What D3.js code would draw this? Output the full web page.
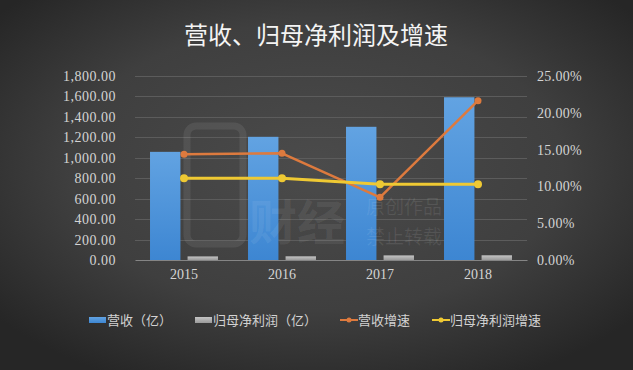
<!DOCTYPE html>
<html>
<head>
<meta charset="utf-8">
<script src="https://cdn.jsdelivr.net/npm/d3@7"></script>
<style>
  html, body { margin: 0; padding: 0; background: #333; }
  svg { display: block; }
</style>
</head>
<body>
<div class="chart"></div>
<script>
const years = ["2015", "2016", "2017", "2018"];
const revenue = [1058, 1205, 1303, 1592];          // 营收（亿）
const netProfit = [35, 36, 45, 46];                 // 归母净利润（亿）
const revenueGrowth = [0.1436, 0.1450, 0.0852, 0.2164];  // 营收增速
const profitGrowth = [0.1110, 0.1110, 0.1028, 0.1030];   // 归母净利润增速
const leftTicks = [0, 200, 400, 600, 800, 1000, 1200, 1400, 1600, 1800];
const rightTicks = [0, 0.05, 0.10, 0.15, 0.20, 0.25];
const legendLabels = ["营收（亿）", "归母净利润（亿）", "营收增速", "归母净利润增速"];

const width = 633, height = 370;
const cjk = "'Noto Sans CJK SC', 'Noto Sans', sans-serif";
const numFont = "'Liberation Serif', 'DejaVu Serif', serif";

const svg = d3.select(".chart").append("svg")
    .attr("width", width)
    .attr("height", height);

const defs = svg.append("defs");

let bg = defs.append("radialGradient").attr("id", "bg")
    .attr("cx", "50%").attr("cy", "45%").attr("r", "65%");
bg.append("stop").attr("offset", "0%").attr("stop-color", "#4b4b4b");
bg.append("stop").attr("offset", "60%").attr("stop-color", "#3f3f3f");
bg.append("stop").attr("offset", "100%").attr("stop-color", "#262626");

let blue = defs.append("linearGradient").attr("id", "blue")
    .attr("x1", 0).attr("y1", 0).attr("x2", 0).attr("y2", 1);
blue.append("stop").attr("offset", "0%").attr("stop-color", "#62a3e2");
blue.append("stop").attr("offset", "100%").attr("stop-color", "#3d86d2");

let gray = defs.append("linearGradient").attr("id", "gray")
    .attr("x1", 0).attr("y1", 0).attr("x2", 0).attr("y2", 1);
gray.append("stop").attr("offset", "0%").attr("stop-color", "#c4c4c4");
gray.append("stop").attr("offset", "100%").attr("stop-color", "#9a9a9a");

svg.append("rect")
    .attr("width", width)
    .attr("height", height)
    .style("fill", "url(#bg)");

// title
svg.append("text")
    .attr("x", 316)
    .attr("y", 44)
    .attr("text-anchor", "middle")
    .style("font-family", cjk)
    .style("font-size", "24px")
    .style("fill", "#f4f4f4")
    .text("营收、归母净利润及增速");

const plotLeft = 135, plotRight = 527, plotTop = 76, plotBottom = 260;

let x0 = d3.scaleBand()
    .domain(years)
    .range([plotLeft, plotRight]);

let x1 = d3.scaleBand()
    .domain(["rev", "np"])
    .range([0, x0.bandwidth()])
    .paddingInner(0.19)
    .paddingOuter(0.4);

let yLeft = d3.scaleLinear()
    .domain([0, 1800])
    .range([plotBottom, plotTop]);

let yRight = d3.scaleLinear()
    .domain([0, 0.25])
    .range([plotBottom, plotTop]);

// gridlines
svg.append("g")
    .selectAll("line")
    .data(leftTicks.slice(1))
    .enter().append("line")
    .attr("x1", plotLeft)
    .attr("x2", plotRight)
    .attr("y1", d => Math.round(yLeft(d)) + 0.5)
    .attr("y2", d => Math.round(yLeft(d)) + 0.5)
    .style("stroke", "#5c5c5c")
    .style("stroke-width", 1);

// left axis
let leftAxis = d3.axisLeft(yLeft)
    .tickValues(leftTicks)
    .tickSize(0)
    .tickPadding(0)
    .tickFormat(d3.format(",.2f"));

let leftG = svg.append("g")
    .attr("transform", `translate(116, 0)`)
    .call(leftAxis);
leftG.select(".domain").remove();
leftG.selectAll("text")
    .style("font-family", numFont)
    .style("font-size", "14px")
    .style("letter-spacing", "0.5px")
    .style("fill", "#d4d4d4");

// right axis
let rightAxis = d3.axisRight(yRight)
    .tickValues(rightTicks)
    .tickSize(0)
    .tickPadding(0)
    .tickFormat(d3.format(".2%"));

let rightG = svg.append("g")
    .attr("transform", `translate(537, 0)`)
    .call(rightAxis);
rightG.select(".domain").remove();
rightG.selectAll("text")
    .style("font-family", numFont)
    .style("font-size", "14px")
    .style("letter-spacing", "0.3px")
    .style("fill", "#d4d4d4");

// bars
svg.append("g")
    .selectAll("rect")
    .data(years)
    .enter().append("rect")
    .attr("x", (d, i) => x0(d) + x1("rev"))
    .attr("y", (d, i) => yLeft(revenue[i]))
    .attr("width", x1.bandwidth())
    .attr("height", (d, i) => yLeft(0) - yLeft(revenue[i]))
    .style("fill", "url(#blue)");

svg.append("g")
    .selectAll("rect")
    .data(years)
    .enter().append("rect")
    .attr("x", (d, i) => x0(d) + x1("np"))
    .attr("y", (d, i) => yLeft(netProfit[i]))
    .attr("width", x1.bandwidth())
    .attr("height", (d, i) => yLeft(0) - yLeft(netProfit[i]))
    .style("fill", "url(#gray)");

// x axis
let xAxis = d3.axisBottom(x0)
    .tickSize(0)
    .tickPadding(9)
    .tickSizeOuter(0);

let xG = svg.append("g")
    .attr("transform", `translate(0, ${plotBottom})`)
    .call(xAxis);
xG.select(".domain")
    .style("stroke", "#858585")
    .style("stroke-width", 1.2);
xG.selectAll("text")
    .style("font-family", numFont)
    .style("font-size", "14px")
    .style("fill", "#d4d4d4");

// watermark
let wm = svg.append("g")
    .style("pointer-events", "none");
wm.append("rect")
    .attr("x", 187).attr("y", 126)
    .attr("width", 56).attr("height", 118)
    .attr("rx", 9)
    .style("fill", "none")
    .style("stroke", "rgba(255,255,255,0.08)")
    .style("stroke-width", 7);
wm.append("text")
    .attr("x", 297).attr("y", 240)
    .attr("text-anchor", "middle")
    .style("font-family", cjk)
    .style("font-weight", "bold")
    .style("font-size", "48px")
    .style("fill", "rgba(255,255,255,0.08)")
    .text("财经");
wm.append("text")
    .attr("x", 404).attr("y", 214)
    .attr("text-anchor", "middle")
    .style("font-family", cjk)
    .style("font-size", "19px")
    .style("fill", "rgba(255,255,255,0.09)")
    .text("原创作品");
wm.append("text")
    .attr("x", 404).attr("y", 244)
    .attr("text-anchor", "middle")
    .style("font-family", cjk)
    .style("font-size", "19px")
    .style("fill", "rgba(255,255,255,0.09)")
    .text("禁止转载");

// lines
const cx = d => x0(d) + x0.bandwidth() / 2;

function drawLine(values, color, w, r) {
    let line = d3.line()
        .x((d, i) => cx(years[i]))
        .y(d => yRight(d));
    svg.append("path")
        .datum(values)
        .attr("d", line)
        .style("fill", "none")
        .style("stroke", color)
        .style("stroke-width", w)
        .style("stroke-linejoin", "round");
    svg.append("g")
        .selectAll("circle")
        .data(values)
        .enter().append("circle")
        .attr("cx", (d, i) => cx(years[i]))
        .attr("cy", d => yRight(d))
        .attr("r", r)
        .style("fill", color);
}

drawLine(revenueGrowth, "#dd7a3e", 2.5, 3.5);
drawLine(profitGrowth, "#efc933", 3, 4);

// legend
const legendItems = [
    {label: legendLabels[0], type: "bar", fill: "url(#blue)", x: 89},
    {label: legendLabels[1], type: "bar", fill: "url(#gray)", x: 195},
    {label: legendLabels[2], type: "line", fill: "#dd7a3e", x: 340},
    {label: legendLabels[3], type: "line", fill: "#efc933", x: 432}
];

let legend = svg.append("g")
    .attr("transform", `translate(0, 320)`);

let item = legend.selectAll("g")
    .data(legendItems)
    .enter().append("g")
    .attr("transform", d => `translate(${d.x}, 0)`);

item.filter(d => d.type === "bar")
    .append("rect")
    .attr("x", 0).attr("y", -3)
    .attr("width", 17).attr("height", 6)
    .style("fill", d => d.fill);

item.filter(d => d.type === "line")
    .append("line")
    .attr("x1", 0).attr("x2", 18)
    .attr("y1", 0).attr("y2", 0)
    .style("stroke", d => d.fill)
    .style("stroke-width", 2);

item.filter(d => d.type === "line")
    .append("circle")
    .attr("cx", 9).attr("cy", 0).attr("r", 2.5)
    .style("fill", d => d.fill);

item.append("text")
    .attr("x", 18)
    .attr("y", 5)
    .style("font-family", cjk)
    .style("font-size", "13px")
    .style("fill", "#d2d2d2")
    .text(d => d.label);
</script>
</body>
</html>
